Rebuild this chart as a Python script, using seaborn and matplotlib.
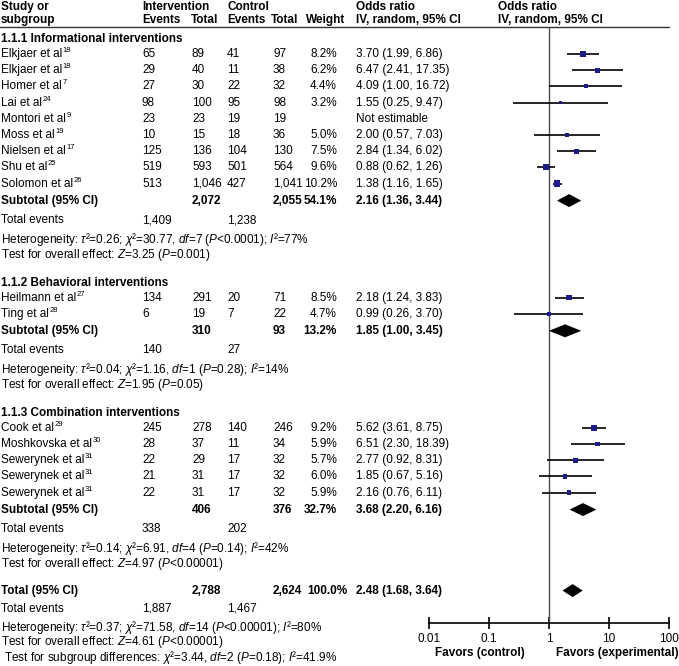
import numpy as np
import pandas as pd
import seaborn as sns
import matplotlib.pyplot as plt
from matplotlib.ticker import FixedLocator, FixedFormatter, NullLocator

sns.set_theme(style="white")
plt.rcParams['font.family'] = ['Liberation Sans', 'DejaVu Sans']
plt.rcParams['mathtext.fontset'] = 'custom'
plt.rcParams['mathtext.rm'] = 'Liberation Sans'
plt.rcParams['mathtext.it'] = 'Liberation Sans:italic'
plt.rcParams['mathtext.bf'] = 'Liberation Sans:bold'

# study level data
group_titles = ["1.1.1 Informational interventions",
                "1.1.2 Behavioral interventions",
                "1.1.3 Combination interventions"]
study_names = ["Elkjaer et al", "Elkjaer et al", "Homer et al", "Lai et al", "Montori et al",
               "Moss et al", "Nielsen et al", "Shu et al", "Solomon et al",
               "Heilmann et al", "Ting et al",
               "Cook et al", "Moshkovska et al", "Sewerynek et al", "Sewerynek et al", "Sewerynek et al"]
study_refs = [18, 18, 7, 24, 9, 19, 17, 25, 26, 27, 28, 29, 30, 31, 31, 31]
study_group = [0, 0, 0, 0, 0, 0, 0, 0, 0, 1, 1, 2, 2, 2, 2, 2]
int_events = [65, 29, 27, 98, 23, 10, 125, 519, 513, 134, 6, 245, 28, 22, 21, 22]
int_total = [89, 40, 30, 100, 23, 15, 136, 593, 1046, 291, 19, 278, 37, 29, 31, 31]
ctl_events = [41, 11, 22, 95, 19, 18, 104, 501, 427, 20, 7, 140, 11, 17, 17, 17]
ctl_total = [97, 38, 32, 98, 19, 36, 130, 564, 1041, 71, 22, 246, 34, 32, 32, 32]
weights = [8.2, 6.2, 4.4, 3.2, np.nan, 5.0, 7.5, 9.6, 10.2, 8.5, 4.7, 9.2, 5.9, 5.7, 6.0, 5.9]
odds = [3.70, 6.47, 4.09, 1.55, np.nan, 2.00, 2.84, 0.88, 1.38, 2.18, 0.99, 5.62, 6.51, 2.77, 1.85, 2.16]
ci_low = [1.99, 2.41, 1.00, 0.25, np.nan, 0.57, 1.34, 0.62, 1.16, 1.24, 0.26, 3.61, 2.30, 0.92, 0.67, 0.76]
ci_high = [6.86, 17.35, 16.72, 9.47, np.nan, 7.03, 6.02, 1.26, 1.65, 3.83, 3.70, 8.75, 18.39, 8.31, 5.16, 6.11]

# pooled subgroup results
sub_int_total = [2072, 310, 406]
sub_ctl_total = [2055, 93, 376]
sub_weight = [54.1, 13.2, 32.7]
sub_or = [2.16, 1.85, 3.68]
sub_low = [1.36, 1.00, 2.20]
sub_high = [3.44, 3.45, 6.16]
sub_int_events = [1409, 140, 338]
sub_ctl_events = [1238, 27, 202]
sub_tau2 = [0.26, 0.04, 0.14]
sub_chi2 = [30.77, 1.16, 6.91]
sub_df = [7, 1, 4]
sub_p_het = ["<0.0001", "=0.28", "=0.14"]
sub_i2 = [77, 14, 42]
sub_z = [3.25, 1.95, 4.97]
sub_p_z = ["=0.001", "=0.05", "<0.00001"]

# overall result
tot_int_total = 2788
tot_ctl_total = 2624
tot_weight = 100.0
tot_or = 2.48
tot_low = 1.68
tot_high = 3.64
tot_int_events = 1887
tot_ctl_events = 1467
tot_tau2 = 0.37
tot_chi2 = 71.58
tot_df = 14
tot_p_het = "<0.00001"
tot_i2 = 80
tot_z = 4.61
tot_p_z = "<0.00001"
diff_chi2 = 3.44
diff_df = 2
diff_p = "=0.18"
diff_i2 = 41.9

axis_ticks = [0.01, 0.1, 1, 10, 100]
tick_labels = ["0.01", "0.1", "1", "10", "100"]

FS = 8.5
W, H = 679, 666
RULE_Y = 27
AXIS_Y = 623
# column positions (pixels)
X_NAME, X_IE, X_IT, X_CE, X_CT, X_W, X_OR, X_PLOT = 1, 142, 192, 227, 273, 337, 356, 498
NAVY = '#1c1c8a'

fig = plt.figure(figsize=(W / 100, H / 100), dpi=100)
ax_t = fig.add_axes([0, 0, 1, 1])
ax_t.set_xlim(0, W)
ax_t.set_ylim(H, 0)
ax_t.axis('off')
renderer = fig.canvas.get_renderer()

ax_f = fig.add_axes([429 / W, (H - AXIS_Y) / H, 240 / W, (AXIS_Y - RULE_Y) / H])
ax_f.patch.set_alpha(0)


def txt(x, y, s, ha='left', bold=False):
    return ax_t.text(x, y, s, ha=ha, va='center', fontsize=FS,
                     fontweight='bold' if bold else 'normal', color='black')


def name_with_ref(x, y, name, ref):
    # reference number as a small raised text right after the name
    t = txt(x, y, name)
    x_end = ax_t.transData.inverted().transform((t.get_window_extent(renderer).x1, 0))[0]
    ax_t.text(x_end + 0.5, y - 3.5, str(ref), ha='left', va='center', fontsize=5.5, color='black')


def ci_text(o, lo, hi):
    return f"{o:.2f} ({lo:.2f}, {hi:.2f})"


def het_text(tau2, chi2, df, p, i2):
    return (rf"Heterogeneity: $\tau$²={tau2:.2f}; $\chi$²={chi2:.2f}, "
            rf"$df$={df} ($P${p}); $I$²={i2}%")


# header
for y, parts in [(7, [(X_NAME, "Study or"), (X_IE, "Intervention"), (X_CE, "Control"),
                      (X_OR, "Odds ratio"), (X_PLOT, "Odds ratio")]),
                 (20, [(X_NAME, "subgroup"), (X_IE, "Events"), (191, "Total"), (X_CE, "Events"),
                       (271, "Total"), (306, "Weight"), (X_OR, "IV, random, 95% CI"),
                       (X_PLOT, "IV, random, 95% CI")])]:
    for x, s in parts:
        txt(x, y, s, bold=True)
ax_t.plot([0, 669], [RULE_Y, RULE_Y], color='#333333', lw=1)

# table rows, keeping the y of every study and pooled row for the plot
study_y = [np.nan] * len(study_names)
pooled_y = []
y = RULE_Y + 12
for g in range(3):
    if g > 0:
        y += 28
    txt(X_NAME, y, group_titles[g], bold=True)
    idx = [i for i in range(len(study_names)) if study_group[i] == g]
    y += 15
    for k, i in enumerate(idx):
        if k > 0:
            y += 16.2
        study_y[i] = y
        name_with_ref(X_NAME, y, study_names[i], study_refs[i])
        txt(X_IE, y, f"{int_events[i]:,}")
        txt(X_IT, y, f"{int_total[i]:,}")
        txt(X_CE, y, f"{ctl_events[i]:,}")
        txt(X_CT, y, f"{ctl_total[i]:,}")
        if np.isnan(odds[i]):
            txt(X_OR, y, "Not estimable")
        else:
            txt(X_W, y, f"{weights[i]:.1f}%", ha='right')
            txt(X_OR, y, ci_text(odds[i], ci_low[i], ci_high[i]))
    y += 17
    pooled_y.append(y)
    txt(X_NAME, y, "Subtotal (95% CI)", bold=True)
    txt(X_IT, y, f"{sub_int_total[g]:,}", bold=True)
    txt(X_CT, y, f"{sub_ctl_total[g]:,}", bold=True)
    txt(X_W, y, f"{sub_weight[g]:.1f}%", ha='right', bold=True)
    txt(X_OR, y, ci_text(sub_or[g], sub_low[g], sub_high[g]), bold=True)
    y += 19.5
    txt(X_NAME, y, "Total events")
    txt(X_IE, y, f"{sub_int_events[g]:,}")
    txt(X_CE, y, f"{sub_ctl_events[g]:,}")
    y += 19.5
    txt(X_NAME, y, het_text(sub_tau2[g], sub_chi2[g], sub_df[g], sub_p_het[g], sub_i2[g]))
    y += 15
    txt(X_NAME, y, rf"Test for overall effect: $Z$={sub_z[g]:.2f} ($P${sub_p_z[g]})")

# overall rows
y += 27
pooled_y.append(y)
txt(X_NAME, y, "Total (95% CI)", bold=True)
txt(X_IT, y, f"{tot_int_total:,}", bold=True)
txt(X_CT, y, f"{tot_ctl_total:,}", bold=True)
txt(X_W + 10, y, f"{tot_weight:.1f}%", ha='right', bold=True)
txt(X_OR, y, ci_text(tot_or, tot_low, tot_high), bold=True)
y += 18
txt(X_NAME, y, "Total events")
txt(X_IE, y, f"{tot_int_events:,}")
txt(X_CE, y, f"{tot_ctl_events:,}")
y += 18.5
txt(X_NAME, y, het_text(tot_tau2, tot_chi2, tot_df, tot_p_het, tot_i2))
y += 15
txt(X_NAME, y, rf"Test for overall effect: $Z$={tot_z:.2f} ($P${tot_p_z})")
y += 15
txt(4, y, rf"Test for subgroup differences: $\chi$²={diff_chi2:.2f}, $df$={diff_df} "
          rf"($P${diff_p}); $I$²={diff_i2}%")

# forest plot: CI lines, weighted squares, pooled diamonds
studies = pd.DataFrame({'odds': odds, 'lo': ci_low, 'hi': ci_high, 'w': weights, 'y': study_y}).dropna()
ax_f.axvline(1, color='#4d4d4d', lw=1, zorder=1)
ax_f.hlines(studies['y'], studies['lo'], studies['hi'], color='black', lw=1.2, zorder=2)
sns.scatterplot(data=studies, x='odds', y='y', size='w', sizes=(6, 20), size_norm=(3.2, 10.2),
                marker='s', color=NAVY, linewidth=0, legend=False, ax=ax_f, zorder=3)

pooled = pd.DataFrame({'odds': sub_or + [tot_or], 'lo': sub_low + [tot_low],
                       'hi': sub_high + [tot_high], 'y': pooled_y})
for _, r in pooled.iterrows():
    ax_f.fill([r.lo, r.odds, r.hi, r.odds], [r.y, r.y - 6.5, r.y, r.y + 6.5],
              color='black', lw=0, zorder=3)

ax_f.set_xscale('log')
ax_f.set_xlim(0.01, 100)
ax_f.set_ylim(AXIS_Y, RULE_Y)
ax_f.set_xlabel('')
ax_f.set_ylabel('')
ax_f.set_yticks([])
ax_f.xaxis.set_major_locator(FixedLocator(axis_ticks))
ax_f.xaxis.set_major_formatter(FixedFormatter(tick_labels))
ax_f.xaxis.set_minor_locator(NullLocator())
ax_f.tick_params(axis='x', bottom=True, direction='inout', length=8, width=1.2,
                 labelsize=FS, pad=3, color='black', labelcolor='black')
for side in ['top', 'left', 'right']:
    ax_f.spines[side].set_visible(False)
ax_f.spines['bottom'].set_color('black')
ax_f.spines['bottom'].set_linewidth(1.2)

txt(525, 653, "Favors (control)", ha='right', bold=True)
txt(556, 653, "Favors (experimental)", bold=True)

fig.savefig('out.png', dpi=100)
